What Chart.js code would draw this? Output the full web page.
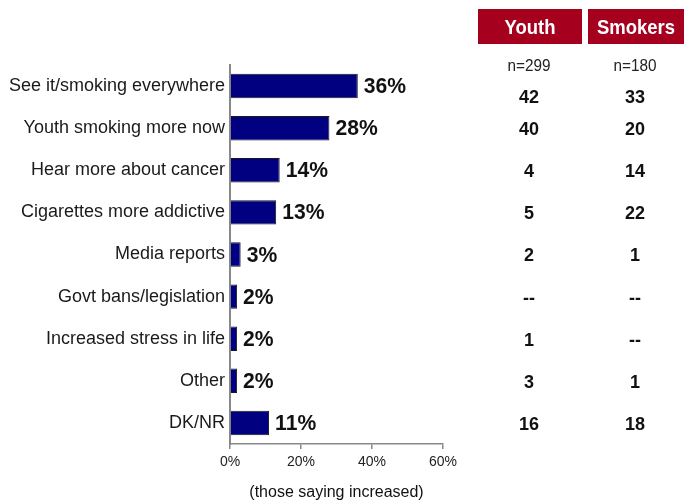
<!DOCTYPE html>
<html>
<head>
<meta charset="utf-8">
<script src="https://cdn.jsdelivr.net/npm/chart.js@4.4.1/dist/chart.umd.min.js"></script>
<style>
  html, body { margin: 0; padding: 0; background: #fff; }
  #wrap { width: 685px; height: 502px; }
</style>
</head>
<body>
<div id="wrap"><canvas id="chart" width="685" height="502"></canvas></div>
<script>
const categories = [
  'See it/smoking everywhere',
  'Youth smoking more now',
  'Hear more about cancer',
  'Cigarettes more addictive',
  'Media reports',
  'Govt bans/legislation',
  'Increased stress in life',
  'Other',
  'DK/NR'
]
const increasedPct = [36, 28, 14, 13, 3, 2, 2, 2, 11]
const groupHeaders = ['Youth', 'Smokers']
const sampleSizes = ['n=299', 'n=180']
const youthCounts = ['42', '40', '4', '5', '2', '--', '1', '3', '16']
const smokerCounts = ['33', '20', '14', '22', '1', '--', '--', '1', '18']
const xTicks = [0, 20, 40, 60]
const axisTitle = '(those saying increased)'

const FONT = '"Liberation Sans", Arial, sans-serif'

// draw text squeezed horizontally (the original uses a narrow face)
function narrowText(ctx, text, x, y, sx) {
  ctx.save()
  ctx.translate(x, y)
  ctx.scale(sx, 1)
  ctx.fillText(text, 0, 0)
  ctx.restore()
}

// value labels at the end of each bar
const barLabels = {
  id: 'barLabels',
  afterDatasetsDraw(chart) {
    const ctx = chart.ctx
    const meta = chart.getDatasetMeta(0)
    ctx.save()
    ctx.font = `bold 22px ${FONT}`
    ctx.fillStyle = '#111'
    ctx.textAlign = 'left'
    ctx.textBaseline = 'middle'
    meta.data.forEach((bar, i) => {
      narrowText(ctx, increasedPct[i] + '%', bar.x + 6, bar.y + 1, 0.96)
    })
    ctx.restore()
  }
}

// Youth / Smokers side table
const sideTable = {
  id: 'sideTable',
  afterDraw(chart) {
    const ctx = chart.ctx
    const yScale = chart.scales.y
    const cols = [
      { left: 478, right: 582, values: youthCounts },
      { left: 588, right: 684, values: smokerCounts }
    ]
    ctx.save()
    ctx.textAlign = 'center'
    ctx.textBaseline = 'middle'
    cols.forEach((col, c) => {
      const cx = (col.left + col.right) / 2
      ctx.fillStyle = '#A6001F'
      ctx.fillRect(col.left, 9, col.right - col.left, 35)
      ctx.fillStyle = '#fff'
      ctx.font = `bold 21px ${FONT}`
      narrowText(ctx, groupHeaders[c], cx, 28, 0.88)

      ctx.fillStyle = '#222'
      ctx.font = `17px ${FONT}`
      narrowText(ctx, sampleSizes[c], cx - 1, 66, 0.9)

      ctx.fillStyle = '#111'
      ctx.font = `bold 18px ${FONT}`
      col.values.forEach((v, i) => {
        let y = yScale.getPixelForValue(i) + 2
        if (i === 0) y += 10 // first row sits below the n= line
        ctx.fillText(v, cx - 1, y)
      })
    })
    ctx.restore()
  }
}

new Chart(document.getElementById('chart'), {
  type: 'bar',
  data: {
    labels: categories,
    datasets: [{
      data: increasedPct,
      backgroundColor: '#000080',
      borderColor: '#1a1a1a',
      borderWidth: 1,
      barPercentage: 0.58,
      categoryPercentage: 1
    }]
  },
  options: {
    indexAxis: 'y',
    responsive: false,
    animation: false,
    layout: { padding: { top: 65, right: 242, left: 0, bottom: 0 } },
    plugins: {
      legend: { display: false },
      tooltip: { enabled: false }
    },
    scales: {
      x: {
        min: 0,
        max: 60,
        afterFit(scale) { scale.height = 58 },
        afterBuildTicks(scale) { scale.ticks = xTicks.map(v => ({ value: v })) },
        grid: { drawOnChartArea: false, drawTicks: true, tickLength: 5, color: '#888', lineWidth: 1.5 },
        border: { display: true, color: '#888', width: 1.5 },
        ticks: {
          padding: 5,
          color: '#222',
          font: { family: FONT, size: 14 },
          callback: v => v + '%'
        },
        title: {
          display: true,
          text: axisTitle,
          color: '#111',
          font: { family: FONT, size: 16 },
          padding: { top: 4, bottom: 0 }
        }
      },
      y: {
        afterFit(scale) { scale.width = 230 },
        grid: { display: false, drawTicks: false },
        border: { display: true, color: '#888', width: 2 },
        ticks: {
          padding: 5,
          color: '#1a1a1a',
          font: { family: FONT, size: 18 }
        }
      }
    }
  },
  plugins: [barLabels, sideTable]
})
</script>
</body>
</html>
